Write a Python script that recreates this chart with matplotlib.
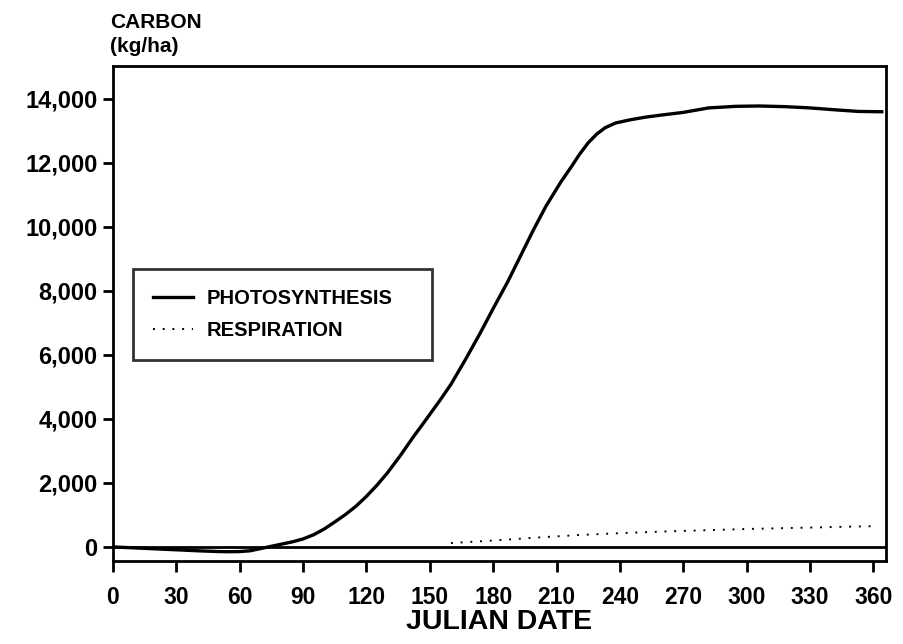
import numpy as np
import matplotlib.pyplot as plt
from matplotlib.ticker import FuncFormatter

plt.rcParams["font.family"] = ["Liberation Sans", "DejaVu Sans"]
plt.rcParams["font.weight"] = "bold"

# cumulative photosynthesis
photo_day = [0, 10, 20, 30, 40, 50, 55, 60, 65, 70, 75, 80, 85, 90, 95, 100,
             105, 110, 115, 120, 125, 130, 136, 142, 149, 155, 160, 167, 174,
             180, 187, 193, 199, 205, 212, 217, 221, 225, 229, 233, 238, 245,
             252, 260, 270, 282, 295, 306, 318, 330, 342, 353, 364]
photo_val = [0, -30, -60, -90, -120, -145, -150, -145, -120, -50, 20, 90, 160,
             250, 380, 560, 780, 1010, 1270, 1580, 1930, 2320, 2850, 3420, 4050,
             4600, 5080, 5870, 6700, 7450, 8300, 9100, 9900, 10650, 11400,
             11880, 12280, 12630, 12900, 13100, 13250, 13350, 13430, 13500,
             13580, 13720, 13770, 13780, 13760, 13720, 13660, 13610, 13600]

# cumulative respiration (dotted)
resp_day = [160, 170, 180, 190, 200, 210, 220, 230, 240, 250, 260, 270, 280,
            290, 300, 310, 320, 330, 340, 350, 362]
resp_val = [120, 160, 200, 245, 290, 330, 370, 400, 430, 455, 480, 500, 520,
            540, 560, 575, 590, 605, 620, 635, 650]

x_ticks = list(range(0, 361, 30))
y_ticks = list(range(0, 14001, 2000))

fig = plt.figure(figsize=(9.04, 6.44), dpi=100)
ax = fig.add_axes([113 / 904, 83 / 644, 773 / 904, 495 / 644])

ax.axhline(0, color="black", lw=2.0, zorder=1)
l1, = ax.plot(photo_day, photo_val, color="black", lw=2.4, label="PHOTOSYNTHESIS")
l2, = ax.plot(resp_day, resp_val, color="black", lw=1.4,
              linestyle=(0, (1, 4)), label="RESPIRATION")

ax.set_xlim(0, 366)
ax.set_ylim(-440, 15030)
ax.set_xticks(x_ticks)
ax.set_yticks(y_ticks)
ax.yaxis.set_major_formatter(FuncFormatter(lambda v, p: f"{int(v):,}"))
ax.tick_params(axis="x", direction="out", length=8, width=2, labelsize=16.5, pad=10)
ax.tick_params(axis="y", direction="out", length=7, width=2, labelsize=17, pad=4)
for s in ax.spines.values():
    s.set_linewidth(2.0)

ax.set_xlabel("JULIAN DATE", fontsize=20.5, fontweight="bold", labelpad=0)
fig.text(110 / 904, 1 - 23 / 644, "CARBON", fontsize=15, fontweight="bold",
         ha="left", va="center")
fig.text(110 / 904, 1 - 46 / 644, "(kg/ha)", fontsize=15, fontweight="bold",
         ha="left", va="center")

leg = fig.legend(handles=[l1, l2], loc="upper left", mode="expand",
                 bbox_to_anchor=(133 / 904, 1 - 360 / 644, 299 / 904, 91 / 644),
                 frameon=True, fancybox=False, edgecolor="black",
                 fontsize=14.5, handlelength=2.0, handletextpad=0.65,
                 labelspacing=0.65, borderpad=1.0, borderaxespad=0)
leg.get_frame().set_linewidth(2.0)

fig.savefig("out.png", dpi=100)
